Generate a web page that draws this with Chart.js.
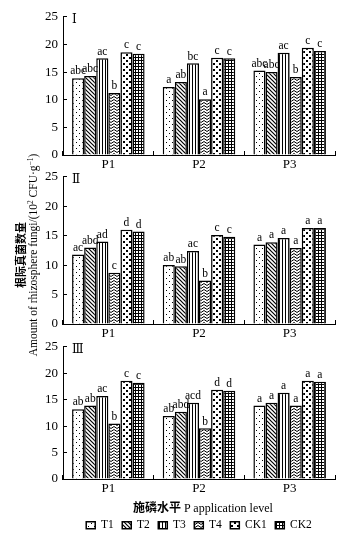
<!DOCTYPE html>
<html>
<head>
<meta charset="utf-8">
<script src="https://cdn.jsdelivr.net/npm/chart.js@4.4.1/dist/chart.umd.min.js"></script>
<style>
  body { margin: 0; background: #fff; }
  #wrap { position: relative; width: 352px; height: 543px; overflow: hidden; background: #fff; }
  canvas { position: absolute; left: 0; }
  .ytitle { position: absolute; top: 255px; transform: translate(-50%, -50%) rotate(-90deg); white-space: nowrap; color: #000; }
  .ytitle sup { font-size: 0.65em; line-height: 0; vertical-align: 0.6em; }
  #xtitle { position: absolute; left: 203px; top: 507px; transform: translate(-50%, -50%); white-space: nowrap;
            font: 12px 'Liberation Serif', serif; color: #000; }
  #xtitle b { font: bold 12px 'Noto Sans CJK SC', sans-serif; }
</style>
</head>
<body>
<div id="wrap">
  <canvas id="panel1" width="352" height="175" style="top:0px"></canvas>
  <canvas id="panel2" width="352" height="184" style="top:160px"></canvas>
  <canvas id="panel3" width="352" height="213" style="top:330px"></canvas>
  <div class="ytitle" style="left:20px; font: bold 11px 'Noto Sans CJK SC', sans-serif;">根际真菌数量</div>
  <div class="ytitle" style="left:33px; font: 11.5px 'Liberation Serif', serif;">Amount of rhizosphere fungi/(10<sup>2</sup> CFU·g<sup>−1</sup>)</div>
  <div id="xtitle"><b>施磷水平</b> P application level</div>
</div>
<script>
// P levels and treatments
const levels = ['P1', 'P2', 'P3'];
const treatments = ['T1', 'T2', 'T3', 'T4', 'CK1', 'CK2'];

// one row per treatment, one column per P level
const valuesI = [
  [13.9, 12.3, 15.3],
  [14.3, 13.2, 15.0],
  [17.5, 16.6, 18.5],
  [11.2, 10.1, 14.1],
  [18.6, 17.6, 19.4],
  [18.3, 17.5, 18.8]
];
const lettersI = [
  ['abc', 'a', 'abc'],
  ['abc', 'ab', 'abc'],
  ['ac', 'bc', 'ac'],
  ['b', 'a', 'b'],
  ['c', 'c', 'c'],
  ['c', 'c', 'c']
];

const valuesII = [
  [11.8, 10.0, 13.5],
  [13.0, 9.8, 13.9],
  [14.0, 12.4, 14.6],
  [8.7, 7.4, 12.9],
  [16.0, 15.1, 16.3],
  [15.7, 14.8, 16.3]
];
const lettersII = [
  ['ac', 'ab', 'a'],
  ['abd', 'ab', 'a'],
  ['ad', 'ac', 'a'],
  ['c', 'b', 'a'],
  ['d', 'c', 'a'],
  ['d', 'c', 'a']
];

const valuesIII = [
  [13.2, 11.9, 13.9],
  [13.9, 12.7, 14.4],
  [15.7, 14.4, 16.3],
  [10.5, 9.6, 13.9],
  [18.6, 16.9, 18.6],
  [18.2, 16.7, 18.4]
];
const lettersIII = [
  ['ab', 'ab', 'a'],
  ['ab', 'abd', 'a'],
  ['ac', 'acd', 'a'],
  ['b', 'b', 'a'],
  ['c', 'd', 'a'],
  ['c', 'd', 'a']
];

const yTicks = [0, 5, 10, 15, 20, 25];

Chart.defaults.font.family = "'Liberation Serif', 'DejaVu Serif', serif";
Chart.defaults.color = '#000';

// hatch fills for the bars
function makePattern(w, h, draw) {
  var c = document.createElement('canvas');
  c.width = w;
  c.height = h;
  var g = c.getContext('2d');
  g.fillStyle = '#fff';
  g.fillRect(0, 0, w, h);
  g.fillStyle = '#000';
  g.strokeStyle = '#000';
  draw(g);
  return g.createPattern(c, 'repeat');
}

var fills = [
  makePattern(6, 6, function(g){ g.fillRect(1, 1, 1, 1); g.fillRect(4, 4, 1, 1); }),
  makePattern(4, 4, function(g){
    g.lineWidth = 1.2;
    g.beginPath();
    g.moveTo(-1, -1); g.lineTo(5, 5);
    g.moveTo(-1, 3); g.lineTo(1, 5);
    g.moveTo(3, -1); g.lineTo(5, 1);
    g.stroke();
  }),
  makePattern(3, 1, function(g){ g.fillRect(0, 0, 1, 1); }),
  makePattern(6, 3, function(g){
    g.lineWidth = 1;
    g.beginPath();
    g.moveTo(0, 0.5); g.lineTo(3, 2.5); g.lineTo(6, 0.5);
    g.stroke();
  }),
  makePattern(6, 6, function(g){ g.fillRect(0, 0, 2, 2); g.fillRect(3, 3, 2, 2); }),
  makePattern(3, 3, function(g){ g.fillRect(0, 0, 3, 1); g.fillRect(0, 0, 1, 3); })
];

// letters above bars + panel numeral
var annotate = {
  id: 'annotate',
  afterDatasetsDraw: function(chart, args, opts) {
    var ctx = chart.ctx;
    ctx.save();
    ctx.fillStyle = '#000';
    ctx.font = "11.5px 'Liberation Serif', serif";
    ctx.textAlign = 'center';
    ctx.textBaseline = 'bottom';
    chart.data.datasets.forEach(function(ds, i){
      chart.getDatasetMeta(i).data.forEach(function(bar, j){
        ctx.fillText(opts.letters[i][j], bar.x, bar.y - 1);
      });
    });
    ctx.font = "12px 'Liberation Serif', 'DejaVu Serif', serif";
    ctx.textAlign = 'left';
    ctx.textBaseline = 'middle';
    ctx.fillText(opts.numeral, chart.chartArea.left + 9, chart.chartArea.top + 3);
    ctx.restore();
  }
};

function buildChart(id, values, letters, numeral, padTop, padBottom, xHeight, showLegend) {
  var datasets = [];
  for (var i = 0; i < treatments.length; i++) {
    datasets.push({
      label: treatments[i],
      data: values[i],
      backgroundColor: fills[i],
      borderColor: '#000',
      borderWidth: 1.5,
      barPercentage: 1.0,
      categoryPercentage: 0.8
    });
  }
  return new Chart(document.getElementById(id), {
    type: 'bar',
    data: { labels: levels, datasets: datasets },
    plugins: [annotate],
    options: {
      responsive: false,
      animation: false,
      events: [],
      layout: { padding: { left: 0, right: 17, top: padTop, bottom: padBottom } },
      scales: {
        x: {
          grid: { drawOnChartArea: false, tickLength: -4, color: '#000', offset: true },
          border: { color: '#000', width: 1 },
          ticks: { font: { size: 13 }, padding: 6, color: '#000' },
          afterFit: function(s){ s.height = xHeight; }
        },
        y: {
          min: 0,
          max: 25,
          afterBuildTicks: function(s){ s.ticks = yTicks.map(function(v){ return { value: v }; }); },
          grid: { drawOnChartArea: false, tickLength: -4, color: '#000' },
          border: { color: '#000', width: 1 },
          ticks: { font: { size: 13 }, padding: 9, color: '#000' },
          afterFit: function(s){ s.width = 63; }
        }
      },
      plugins: {
        annotate: { letters: letters, numeral: numeral },
        tooltip: { enabled: false },
        legend: {
          display: showLegend,
          position: 'bottom',
          fullSize: false,
          labels: { boxWidth: 9, boxHeight: 7, padding: 8.5, font: { size: 11.5 }, color: '#000' }
        }
      }
    }
  });
}

buildChart('panel1', valuesI, lettersI, 'Ⅰ', 14, 0, 20, false);
buildChart('panel2', valuesII, lettersII, 'Ⅱ', 16, 0, 20, false);
buildChart('panel3', valuesIII, lettersIII, 'Ⅲ', 15, 2, 32, true);
</script>
</body>
</html>
